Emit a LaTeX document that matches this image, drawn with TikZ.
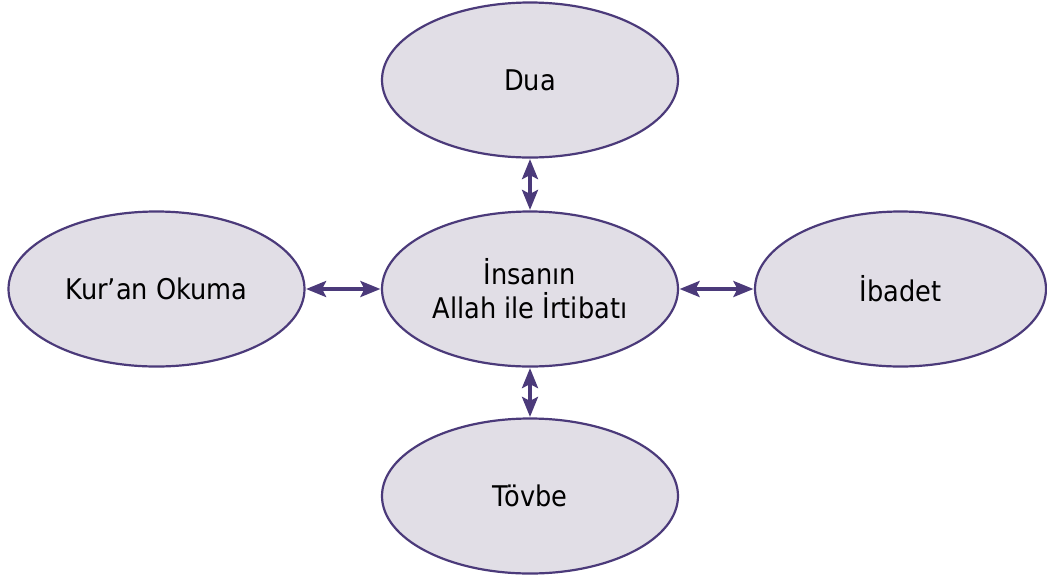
\documentclass[tikz,border=0pt]{standalone}
\usepackage{fontspec}
\setmainfont{DejaVu Sans Condensed}
\usetikzlibrary{shapes.geometric,arrows.meta}
\definecolor{edgec}{HTML}{4B3A7A}
\definecolor{fillc}{HTML}{E1DEE6}
\tikzset{
  bub/.style={ellipse,draw=edgec,fill=fillc,line width=2.2pt,minimum width=296pt,minimum height=155pt,inner sep=0pt,align=center,font=\fontsize{28.5}{34}\selectfont},
  tipx/.tip={Stealth[length=20pt,width=16pt,inset=4pt]},
  link/.style={draw=edgec,line width=3.4pt,tipx-tipx,shorten <=0.5pt,shorten >=0.5pt}
}
\begin{document}
\begin{tikzpicture}[x=1pt,y=-1pt]
\useasboundingbox (0,0) rectangle (1047,574);
\node[bub] (c) at (530,289) {İnsanın\\Allah ile İrtibatı};
\node[bub] (d) at (530,80) {Dua};
\node[bub] (k) at (156.5,289) {Kur’an Okuma};
\node[bub,minimum width=291pt] (i) at (900.5,289) {İbadet};
\node[bub] (t) at (530,496) {Tövbe};
\path[link] (d) -- (c);
\path[link] (c) -- (t);
\path[link] (k) -- (c);
\path[link] (c) -- (i);
\end{tikzpicture}
\end{document}
